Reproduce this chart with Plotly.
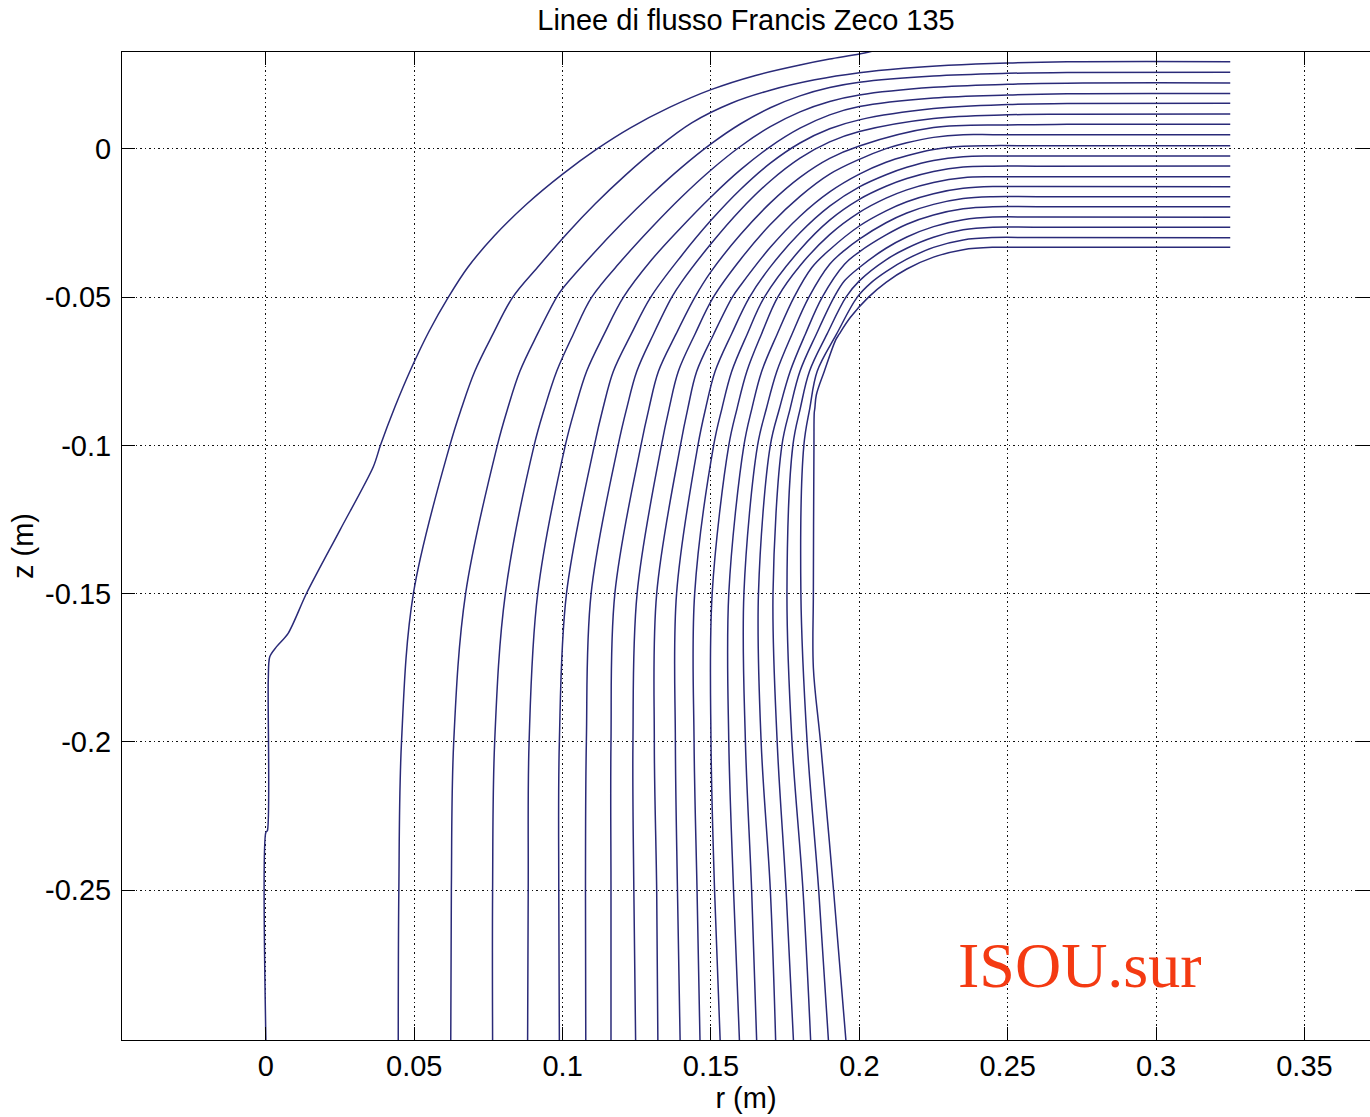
import plotly.graph_objects as go

# ---------------------------------------------------------------------------
# Meridional streamlines of the Francis runner (r = radius, z = axial, metres)
# ---------------------------------------------------------------------------

# Streamline 1: hub-side boundary line
r01 = [0.2065, 0.2, 0.19, 0.18, 0.165, 0.15, 0.136, 0.123, 0.1116, 0.1, 0.088, 0.077,
       0.068, 0.0615, 0.055, 0.049, 0.0435, 0.0386, 0.0362, 0.025, 0.0137, 0.0075,
       0.0036, 0.0013, 0.0008, 0.0005, 0.0, 0.0]
z01 = [0.0335, 0.032, 0.0303, 0.0283, 0.0248, 0.02, 0.014, 0.0072, 0.0, -0.0085, -0.0185,
       -0.0293, -0.04, -0.05, -0.0615, -0.074, -0.087, -0.1, -0.1072, -0.1285, -0.1499,
       -0.1634, -0.1679, -0.1713, -0.1791, -0.23, -0.2305, -0.301]

# Streamlines 2..20: horizontal inlet and bend, down to z = -0.05
r02 = [0.325, 0.27, 0.25, 0.23, 0.215, 0.2, 0.185, 0.17, 0.157, 0.1435, 0.1315, 0.121, 0.111, 0.1015, 0.0915]
z02 = [0.02945, 0.0294, 0.029, 0.0282, 0.0272, 0.0257, 0.0233, 0.0198, 0.0155, 0.0088, 0.0, -0.009, -0.0185, -0.0285, -0.04]
r03 = [0.325, 0.27, 0.25, 0.225, 0.2, 0.19, 0.18, 0.17, 0.16, 0.15, 0.14, 0.13, 0.12, 0.11, 0.1]
z03 = [0.02588, 0.0258, 0.0255, 0.0246, 0.0225, 0.0207, 0.0179, 0.0139, 0.0085, 0.0017, -0.0063, -0.0153, -0.0251, -0.0357, -0.0471]
r04 = [0.325, 0.27, 0.25, 0.225, 0.2, 0.19, 0.18, 0.17, 0.16, 0.15, 0.14, 0.13, 0.12]
z04 = [0.02227, 0.0222, 0.0218, 0.0208, 0.0182, 0.016, 0.0125, 0.0075, 0.0009, -0.0071, -0.0163, -0.0265, -0.0375]
r05 = [0.325, 0.27, 0.25, 0.225, 0.2, 0.19, 0.18, 0.17, 0.16, 0.15, 0.14, 0.13]
z05 = [0.01866, 0.0186, 0.0182, 0.0172, 0.0143, 0.0115, 0.007, 0.0008, -0.007, -0.0162, -0.0264, -0.0374]
r06 = [0.325, 0.27, 0.25, 0.225, 0.2, 0.19, 0.18, 0.17, 0.16, 0.15, 0.14]
z06 = [0.01542, 0.0153, 0.015, 0.0136, 0.0098, 0.0068, 0.002, -0.0048, -0.0136, -0.0241, -0.0361]
r07 = [0.325, 0.27, 0.25, 0.225, 0.2, 0.19, 0.18, 0.17, 0.16, 0.15, 0.14]
z07 = [0.01181, 0.0117, 0.0115, 0.0103, 0.0059, 0.0024, -0.0031, -0.0108, -0.0205, -0.032, -0.045]
r08 = [0.325, 0.27, 0.25, 0.225, 0.2, 0.19, 0.18, 0.17, 0.16, 0.15]
z08 = [0.00833, 0.0083, 0.0081, 0.0072, 0.001, -0.0032, -0.0096, -0.0182, -0.0288, -0.0414]
r09 = [0.325, 0.26, 0.245, 0.235, 0.225, 0.216, 0.209, 0.2, 0.19, 0.18, 0.17, 0.16]
z09 = [0.00482, 0.0048, 0.0048, 0.0048, 0.0039, 0.0021, 0.0001, -0.0035, -0.0085, -0.016, -0.0255, -0.0372]
r10 = [0.325, 0.26, 0.245, 0.235, 0.225, 0.216, 0.209, 0.2, 0.19, 0.18, 0.17, 0.16]
z10 = [0.00111, 0.0011, 0.0011, 0.0009, -0.0002, -0.0023, -0.0045, -0.0085, -0.0145, -0.0227, -0.0332, -0.046]
r11 = [0.325, 0.26, 0.245, 0.235, 0.225, 0.216, 0.209, 0.2, 0.19, 0.18, 0.17]
z11 = [-0.00236, -0.0024, -0.0024, -0.0026, -0.0039, -0.0062, -0.0087, -0.0128, -0.0193, -0.0283, -0.0398]
r12 = [0.325, 0.26, 0.245, 0.235, 0.225, 0.216, 0.209, 0.2, 0.19, 0.18]
z12 = [-0.00574, -0.0058, -0.0058, -0.0061, -0.0076, -0.01, -0.0126, -0.017, -0.024, -0.034]
r13 = [0.325, 0.26, 0.245, 0.235, 0.225, 0.216, 0.209, 0.2, 0.19, 0.18]
z13 = [-0.00935, -0.0094, -0.0094, -0.0097, -0.0113, -0.0138, -0.0166, -0.0214, -0.0289, -0.0394]
r14 = [0.325, 0.26, 0.245, 0.235, 0.225, 0.216, 0.209, 0.2, 0.19, 0.184]
z14 = [-0.01272, -0.0127, -0.0127, -0.0133, -0.0151, -0.0178, -0.0209, -0.026, -0.034, -0.04]
r15 = [0.325, 0.26, 0.245, 0.235, 0.225, 0.216, 0.209, 0.2, 0.195, 0.19]
z15 = [-0.01609, -0.0161, -0.0161, -0.0167, -0.0187, -0.0216, -0.0249, -0.0304, -0.0342, -0.0389]
r16 = [0.325, 0.26, 0.245, 0.235, 0.225, 0.216, 0.209, 0.2, 0.195]
z16 = [-0.01947, -0.0195, -0.0195, -0.0202, -0.0223, -0.0254, -0.029, -0.0347, -0.0389]
r17 = [0.325, 0.26, 0.245, 0.235, 0.225, 0.216, 0.209, 0.2, 0.195]
z17 = [-0.02304, -0.023, -0.023, -0.0239, -0.0262, -0.0297, -0.0335, -0.04, -0.0445]
r18 = [0.325, 0.26, 0.245, 0.235, 0.225, 0.216, 0.209, 0.2]
z18 = [-0.02642, -0.0264, -0.0264, -0.0273, -0.0298, -0.0335, -0.0374, -0.0445]
r19 = [0.325, 0.26, 0.245, 0.235, 0.225, 0.216, 0.209, 0.204]
z19 = [-0.02993, -0.0299, -0.0299, -0.0307, -0.0332, -0.0372, -0.0414, -0.0451]
r20 = [0.325, 0.26, 0.245, 0.235, 0.225, 0.216, 0.209]
z20 = [-0.03317, -0.0332, -0.0332, -0.034, -0.0365, -0.0405, -0.045]

# extra points on the innermost line where it turns into the draft tube
r20_turn = [0.197, 0.192, 0.1855, 0.1848, 0.1845]
z20_turn = [-0.0568, -0.0645, -0.083, -0.089, -0.175]

# Radial position of streamlines 2..20 at fixed axial levels
z_levels = [-0.05, -0.0625, -0.075, -0.0875, -0.1, -0.15, -0.2, -0.25, -0.301]
r_at_z050 = [0.0832, 0.098, 0.1098, 0.1205, 0.1297, 0.1368, 0.1446, 0.1508, 0.1572, 0.163,
             0.168, 0.1725, 0.178, 0.183, 0.1875, 0.1915, 0.1955, 0.1993, 0.2031]
r_at_z0625 = [0.0765, 0.0915, 0.1036, 0.114, 0.1231, 0.1306, 0.1382, 0.1446, 0.1509, 0.1569,
              0.1622, 0.167, 0.1723, 0.1773, 0.1818, 0.1855, 0.1891, 0.1923, 0.1932]
r_at_z075 = [0.0704, 0.0856, 0.098, 0.1081, 0.1171, 0.125, 0.1323, 0.139, 0.1452, 0.1514,
             0.157, 0.1621, 0.1671, 0.1722, 0.1767, 0.18, 0.1832, 0.1858, 0.1882]
r_at_z0875 = [0.0659, 0.0815, 0.0939, 0.1042, 0.1136, 0.1216, 0.1291, 0.1359, 0.1422, 0.1482,
              0.1537, 0.1588, 0.1638, 0.1687, 0.1731, 0.1767, 0.1801, 0.1833, 0.185]
r_at_z100 = [0.062, 0.078, 0.0904, 0.1009, 0.1107, 0.1187, 0.1264, 0.1333, 0.1397, 0.1456,
             0.1509, 0.156, 0.1611, 0.1657, 0.17, 0.1739, 0.1776, 0.1813, 0.1847]
r_at_z150 = [0.0497, 0.0673, 0.0807, 0.0916, 0.1013, 0.1096, 0.1176, 0.1251, 0.1317, 0.1384,
             0.1445, 0.1504, 0.156, 0.1611, 0.166, 0.1709, 0.1756, 0.1803, 0.1845]
r_at_z200 = [0.0457, 0.0633, 0.0771, 0.0887, 0.0989, 0.108, 0.1163, 0.1237, 0.1309, 0.138,
             0.1443, 0.15, 0.156, 0.1616, 0.1669, 0.1723, 0.1773, 0.1824, 0.1869]
r_at_z250 = [0.0448, 0.0625, 0.0764, 0.0884, 0.0987, 0.1077, 0.1163, 0.124, 0.1317, 0.1387,
             0.1453, 0.1512, 0.1576, 0.1637, 0.17, 0.1753, 0.181, 0.1863, 0.1913]
r_at_z301 = [0.0446, 0.0623, 0.0764, 0.0882, 0.0989, 0.1078, 0.1163, 0.1246, 0.1321, 0.1396,
             0.1463, 0.1531, 0.1596, 0.1654, 0.1718, 0.1778, 0.1836, 0.1896, 0.1955]

x_ticks = [0, 0.05, 0.1, 0.15, 0.2, 0.25, 0.3, 0.35]
x_tick_text = ["0", "0.05", "0.1", "0.15", "0.2", "0.25", "0.3", "0.35"]
y_ticks = [0, -0.05, -0.1, -0.15, -0.2, -0.25]
y_tick_text = ["0", "-0.05", "-0.1", "-0.15", "-0.2", "-0.25"]

# ---------------------------------------------------------------------------
upper_r = [r02, r03, r04, r05, r06, r07, r08, r09, r10, r11,
           r12, r13, r14, r15, r16, r17, r18, r19, r20]
upper_z = [z02, z03, z04, z05, z06, z07, z08, z09, z10, z11,
           z12, z13, z14, z15, z16, z17, z18, z19, z20]
level_r = [r_at_z050, r_at_z0625, r_at_z075, r_at_z0875, r_at_z100,
           r_at_z150, r_at_z200, r_at_z250, r_at_z301]

LINE_COLOR = "#2a2a78"
FONT = "Liberation Sans, Arial, sans-serif"
FS = 29

fig = go.Figure()


def add_line(r, z, smooth=1.0):
    fig.add_trace(go.Scatter(
        x=r, y=z, mode="lines",
        line=dict(color=LINE_COLOR, width=1.5, shape="spline", smoothing=smooth),
        hoverinfo="skip", showlegend=False,
    ))


add_line(r01, z01, smooth=0.8)

for i, (ru, zu) in enumerate(zip(upper_r, upper_z)):
    lower = [(level_r[k][i], z_levels[k]) for k in range(len(z_levels))]
    if i == len(upper_r) - 1:
        lower += list(zip(r20_turn, z20_turn))
    lower.sort(key=lambda p: -p[1])
    add_line(list(ru) + [p[0] for p in lower], list(zu) + [p[1] for p in lower])

axis_common = dict(
    showgrid=True, gridcolor="#111111", griddash="1.5px,3px", gridwidth=1.2,
    zeroline=False, showline=True, linecolor="black", linewidth=1,
    mirror="ticks", ticks="inside", ticklen=13, tickcolor="black", tickwidth=1,
    tickfont=dict(family=FONT, size=FS, color="black"),
)

fig.update_layout(
    width=1370, height=1117,
    margin=dict(l=122, r=0, t=52, b=77),
    paper_bgcolor="white", plot_bgcolor="white",
    title=dict(
        text="Linee di flusso Francis Zeco 135",
        x=0.5, xref="paper", xanchor="center",
        y=1 - 20 / 1117, yref="container", yanchor="middle",
        font=dict(family=FONT, size=FS, color="black"),
    ),
    xaxis=dict(
        range=[-0.0485, 0.3721], tickvals=x_ticks, ticktext=x_tick_text,
        ticklabelstandoff=0,
        title=dict(text="r (m)", font=dict(family=FONT, size=FS, color="black"), standoff=4),
        **axis_common,
    ),
    yaxis=dict(
        range=[-0.3006, 0.0327], tickvals=y_ticks, ticktext=y_tick_text,
        ticklabelstandoff=4,
        title=dict(text="z (m)", font=dict(family=FONT, size=FS, color="black"), standoff=2),
        **axis_common,
    ),
    annotations=[dict(
        text="ISOU.sur", xref="paper", yref="paper", x=0.7676, y=0.075,
        xanchor="center", yanchor="middle", showarrow=False,
        font=dict(family="Liberation Serif, Times New Roman, serif", size=64, color="#f43a12"),
    )],
)

fig.write_html("out.html")
